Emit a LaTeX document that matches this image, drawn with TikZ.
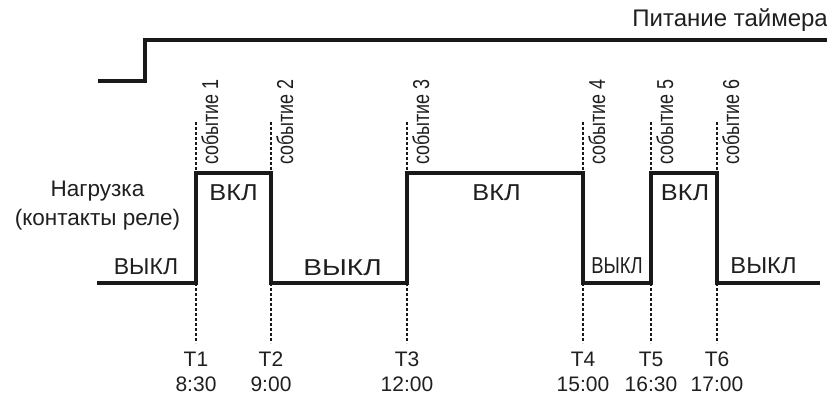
\documentclass[tikz,border=0pt]{standalone}
\usepackage{fontspec}
\setmainfont{Liberation Sans}
\newfontfamily\evfont[FakeStretch=0.78]{Liberation Sans}
\tikzset{
  signal/.style={line width=3.5pt, draw=black!90, line join=miter},
  evline/.style={line width=1.4pt, draw=black!90, dash pattern=on 3pt off 2pt},
  stlabel/.style={font=\fontsize{23}{26}\selectfont, anchor=base},
  evlabel/.style={font=\evfont\fontsize{23}{26}\selectfont, rotate=90, anchor=north west},
}
\begin{document}
\begin{tikzpicture}[x=1pt, y=-1pt, every node/.style={font=\fontsize{21}{24}\selectfont, inner sep=0pt, text=black!88}]
  \useasboundingbox (0,0) rectangle (827,396);
  % timer power
  \draw[signal] (98,81) -- (145,81) -- (145,40) -- (827,40);
  \node[anchor=base east, font=\fontsize{24}{27}\selectfont] (power) at (828,27) {Питание таймера};
  % load (relay contacts)
  \node[anchor=base, font=\fontsize{22.5}{25}\selectfont] (load) at (97.5,196) {Нагрузка};
  \node[anchor=base, font=\fontsize{22.5}{25}\selectfont] (relay) at (97.5,225) {(контакты реле)};
  \draw[signal] (97,283) -- (196,283) -- (196,173) -- (271,173) -- (271,283)
    -- (407,283) -- (407,173) -- (583,173) -- (583,283) -- (651,283)
    -- (651,173) -- (717,173) -- (717,283) -- (820,283);
  % states
  \node[stlabel, xscale=1.1] (on1) at (233.5,200) {ВКЛ};
  \node[stlabel] (off0) at (146,274) {ВЫКЛ};
  \node[stlabel, xscale=1.22] (off2) at (342.5,275) {ВЫКЛ};
  \node[stlabel, xscale=1.1] (on3) at (496.5,200) {ВКЛ};
  \node[stlabel, xscale=0.8] (off4) at (617,273) {ВЫКЛ};
  \node[stlabel, xscale=1.1] (on5) at (685,200) {ВКЛ};
  \node[stlabel, xscale=1.03] (off6) at (763.5,273) {ВЫКЛ};
  % events and times
  \foreach \x/\i/\t in {196/1/8:30, 271/2/9:00, 407/3/12:00, 583/4/15:00, 651/5/16:30, 717/6/17:00} {
    \draw[evline] (\x,122) -- (\x,173);
    \draw[evline] (\x,283) -- (\x,343);
    \node[evlabel] (ev\i) at (\x+5,165) {событие \i};
    \node[anchor=base] (t\i) at (\x,366.5) {T\i};
    \node[anchor=base] (h\i) at (\x,391.5) {\t};
  }
\end{tikzpicture}
\end{document}
